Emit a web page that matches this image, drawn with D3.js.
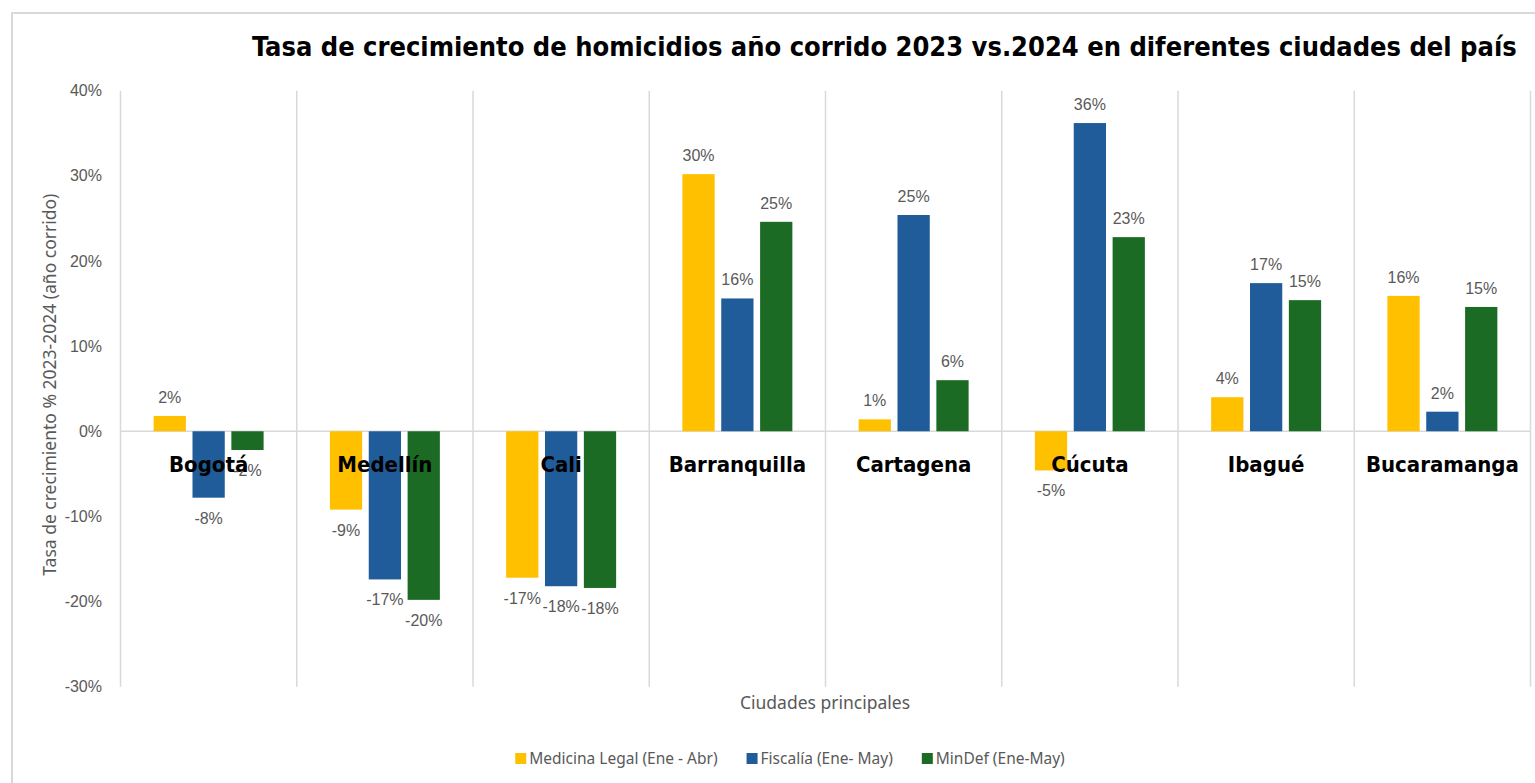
<!DOCTYPE html>
<html>
<head>
<meta charset="utf-8">
<script src="https://cdn.jsdelivr.net/npm/d3@7"></script>
<style>
  html, body { margin: 0; padding: 0; background: #ffffff; }
  svg { display: block; }
</style>
</head>
<body>
<svg id="chart" width="1535" height="783"></svg>
<script>
// ---- Data ----
const categories = ["Bogotá", "Medellín", "Cali", "Barranquilla", "Cartagena", "Cúcuta", "Ibagué", "Bucaramanga"];
const seriesNames = ["Medicina Legal (Ene - Abr)", "Fiscalía (Ene- May)", "MinDef (Ene-May)"];
const medicinaLegal = [1.8, -9.2, -17.2, 30.2, 1.4, -4.6, 4.0, 15.9];
const fiscalia      = [-7.8, -17.4, -18.2, 15.6, 25.4, 36.2, 17.4, 2.3];
const minDef        = [-2.2, -19.8, -18.4, 24.6, 6.0, 22.8, 15.4, 14.6];
const yTicks = [-30, -20, -10, 0, 10, 20, 30, 40];
const titleText = "Tasa de crecimiento de homicidios año corrido 2023 vs.2024 en diferentes ciudades del país";
const yTitle = "Tasa de crecimiento % 2023-2024 (año corrido)";
const xTitle = "Ciudades principales";

const colors = ["#FFC000", "#1F5C99", "#1B6B24"];
const seriesValues = [medicinaLegal, fiscalia, minDef];

const svg = d3.select("#chart");

// outer border
svg.append("rect")
  .attr("x", 12).attr("y", 13)
  .attr("width", 1560).attr("height", 800)
  .attr("fill", "#ffffff")
  .attr("stroke", "#d9d9d9").attr("stroke-width", 2);

const plot = { left: 120.5, right: 1530.5, top: 90.7, bottom: 686.7 };

const x = d3.scaleBand().domain(categories).range([plot.left, plot.right]).padding(0);
const bw = x.bandwidth();
const xs = d3.scaleBand().domain(d3.range(seriesNames.length))
  .range([bw * 0.188, bw * 0.812]).paddingInner(0.17);
const y = d3.scaleLinear().domain([-30, 40]).range([plot.bottom, plot.top]);

// vertical gridlines at band boundaries
const bounds = categories.map(c => x(c)).concat([plot.right]);
svg.append("g").selectAll("line").data(bounds).join("line")
  .attr("x1", d => d).attr("x2", d => d)
  .attr("y1", plot.top).attr("y2", plot.bottom)
  .attr("stroke", "#d9d9d9").attr("stroke-width", 1.5);

// zero line
svg.append("line")
  .attr("x1", plot.left).attr("x2", plot.right)
  .attr("y1", y(0)).attr("y2", y(0))
  .attr("stroke", "#d9d9d9").attr("stroke-width", 1.5);

// y axis tick labels
const yAxis = d3.axisLeft(y).tickValues(yTicks).tickFormat(d => d + "%").tickSize(0).tickPadding(0);
const yg = svg.append("g").attr("transform", `translate(${102},0)`).call(yAxis);
yg.select(".domain").remove();
yg.selectAll("text")
  .attr("font-family", "'Liberation Sans', Arial, sans-serif")
  .attr("font-size", 16).attr("fill", "#595959");

// bars
const flat = [];
categories.forEach((c, i) => {
  seriesValues.forEach((vals, s) => flat.push({ c, s, v: vals[i] }));
});

svg.append("g").selectAll("rect").data(flat).join("rect")
  .attr("x", d => x(d.c) + xs(d.s))
  .attr("width", xs.bandwidth())
  .attr("y", d => y(Math.max(0, d.v)))
  .attr("height", d => Math.abs(y(d.v) - y(0)))
  .attr("fill", d => colors[d.s]);

// data labels
svg.append("g").selectAll("text").data(flat).join("text")
  .attr("x", d => x(d.c) + xs(d.s) + xs.bandwidth() / 2)
  .attr("y", d => d.v >= 0 ? y(d.v) - 13 : y(d.v) + 26)
  .attr("text-anchor", "middle")
  .attr("font-family", "'Liberation Sans', Arial, sans-serif")
  .attr("font-size", 16).attr("fill", "#595959")
  .text(d => Math.round(d.v) + "%");

// category labels
svg.append("g").selectAll("text").data(categories).join("text")
  .attr("x", d => x(d) + bw / 2)
  .attr("y", 472)
  .attr("text-anchor", "middle")
  .attr("font-family", "'Liberation Sans Narrow', 'DejaVu Sans Condensed', sans-serif")
  .attr("font-weight", "bold")
  .attr("font-size", 22).attr("fill", "#000000")
  .text(d => d);

// title
svg.append("text")
  .attr("x", 252).attr("y", 56)
  .attr("text-anchor", "start")
  .attr("font-family", "'Liberation Sans Narrow', 'DejaVu Sans Condensed', sans-serif")
  .attr("font-weight", "bold")
  .attr("font-size", 27).attr("fill", "#000000")
  .text(titleText);

// y title
svg.append("text")
  .attr("transform", `translate(56, ${(plot.top + plot.bottom) / 2 - 4}) rotate(-90)`)
  .attr("text-anchor", "middle")
  .attr("font-family", "'Noto Sans', sans-serif")
  .attr("font-size", 17.5).attr("fill", "#595959")
  .text(yTitle);

// x title
svg.append("text")
  .attr("x", 825).attr("y", 709)
  .attr("text-anchor", "middle")
  .attr("font-family", "'Noto Sans', sans-serif")
  .attr("font-size", 17.5).attr("fill", "#595959")
  .text(xTitle);

// legend
const lg = svg.append("g");
const items = lg.selectAll("g").data(seriesNames).join("g");
items.append("rect").attr("width", 11).attr("height", 11).attr("y", -6)
  .attr("fill", (d, i) => colors[i]);
items.append("text").attr("x", 14).attr("y", 5)
  .attr("font-family", "'Noto Sans', sans-serif")
  .attr("font-size", 15.5).attr("fill", "#595959")
  .text(d => d);
const widths = [];
items.each(function () { widths.push(14 + d3.select(this).select("text").node().getComputedTextLength()); });
const gap = 29;
const total = d3.sum(widths) + gap * (widths.length - 1);
let cx = 790 - total / 2;
items.attr("transform", (d, i) => {
  const t = `translate(${cx},759)`;
  cx += widths[i] + gap;
  return t;
});
</script>
</body>
</html>
